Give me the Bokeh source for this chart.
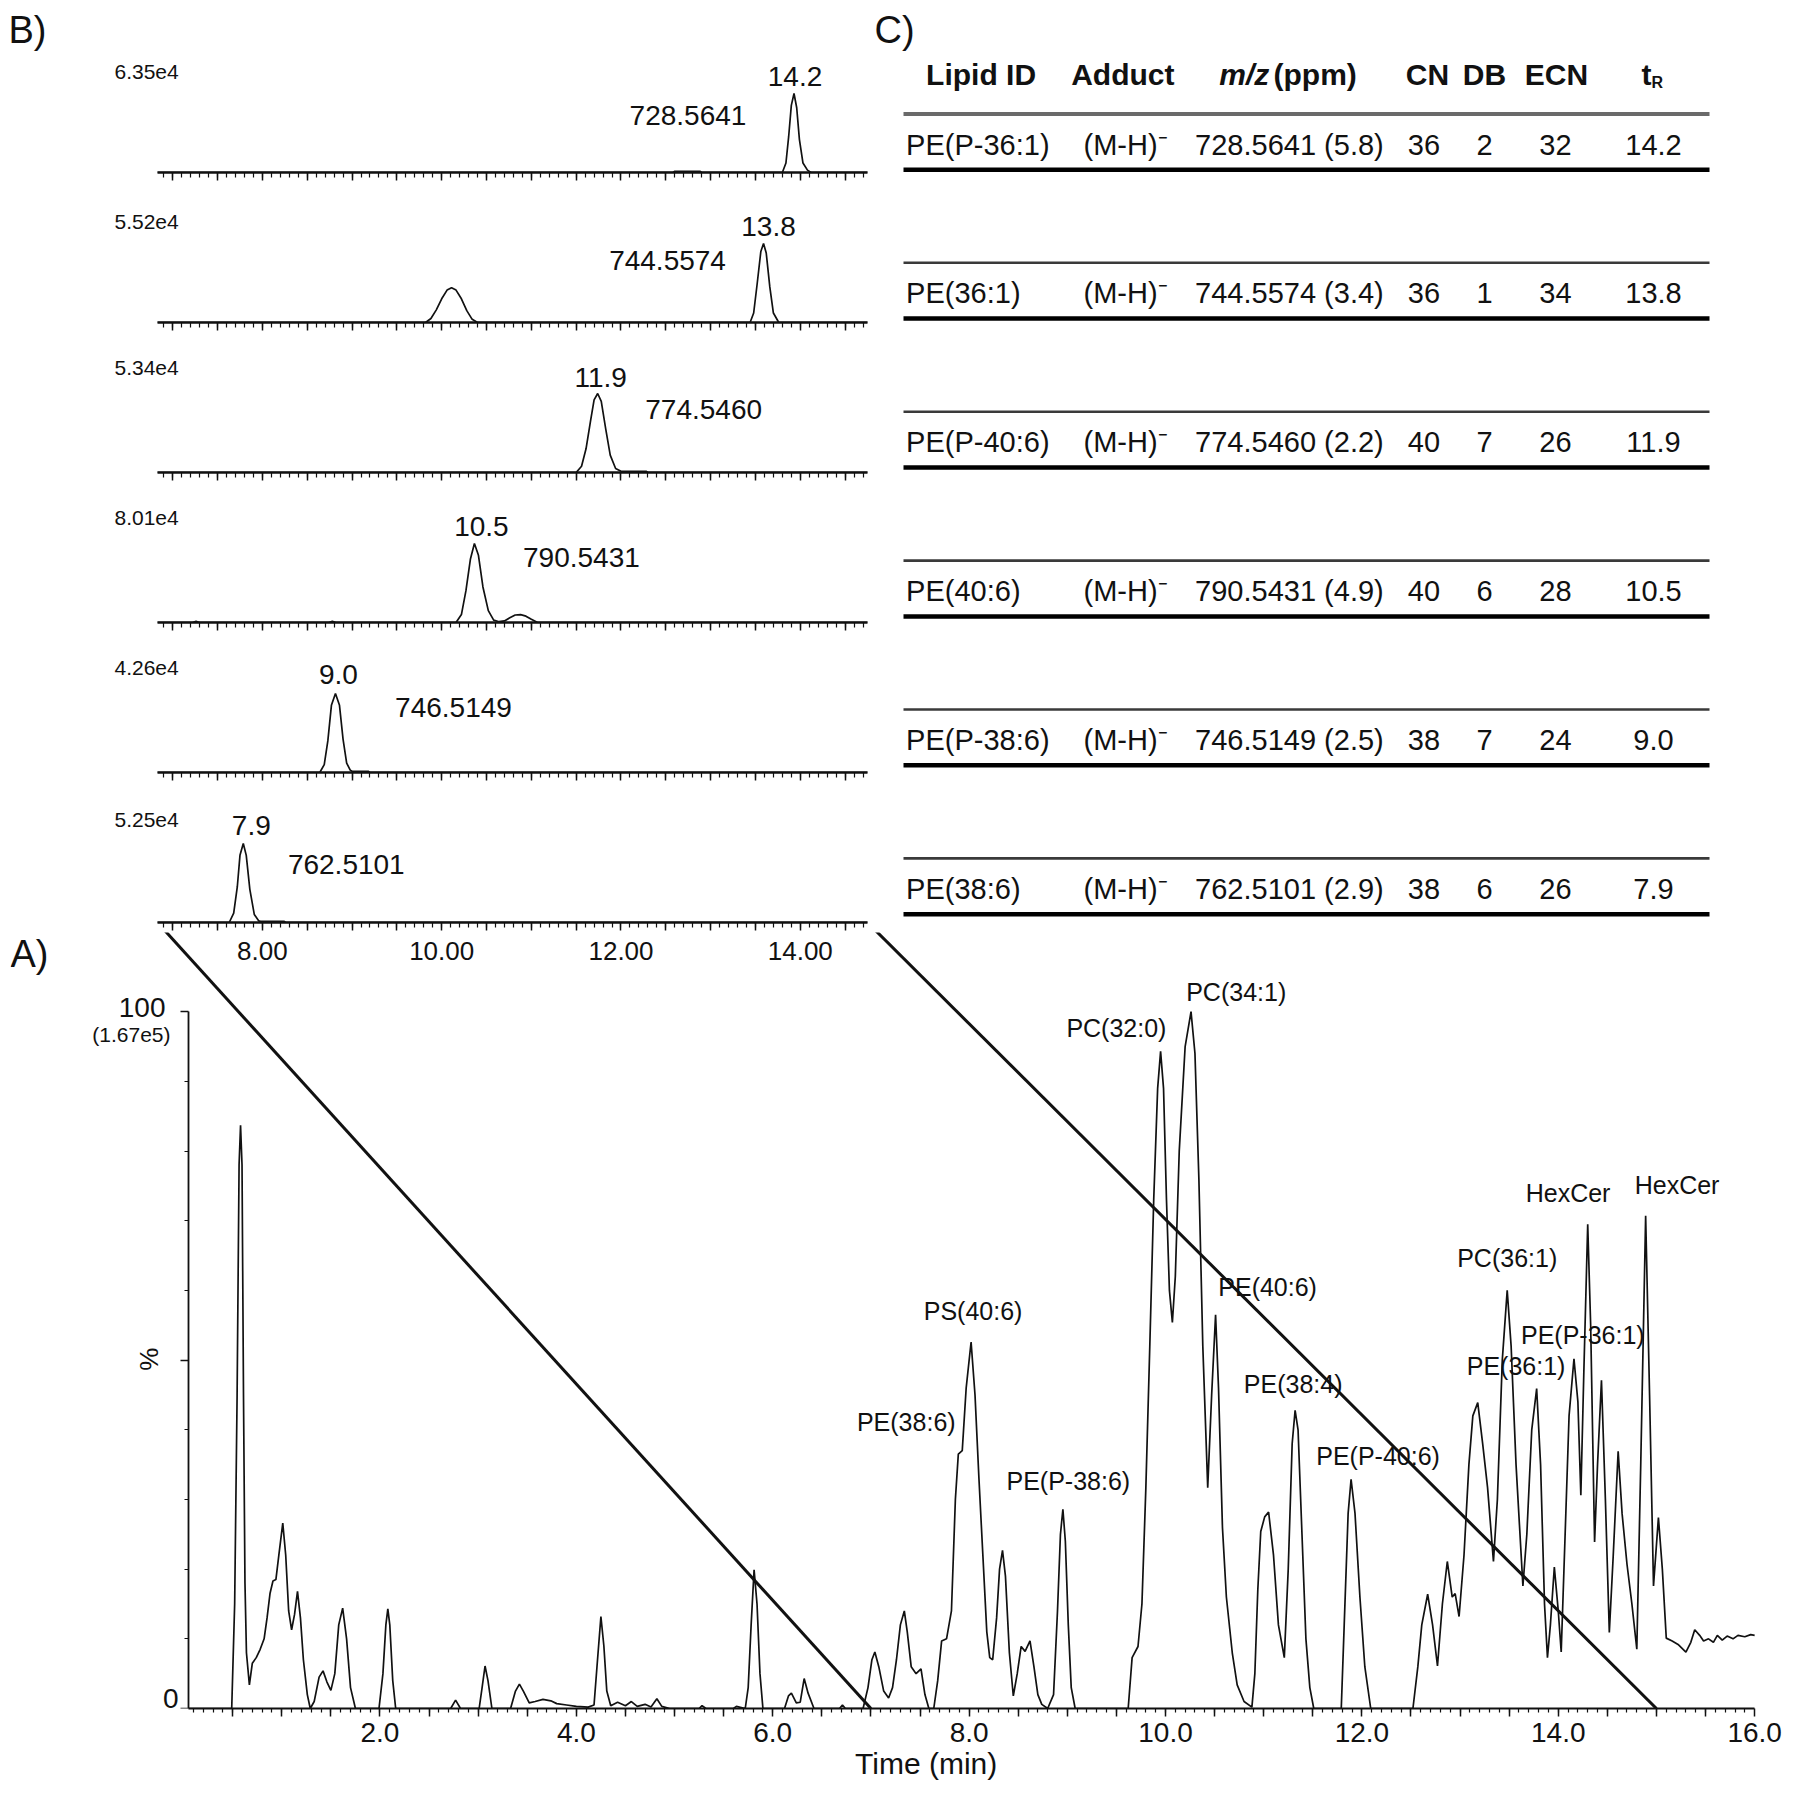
import numpy as np
from bokeh.plotting import figure
from bokeh.models import Range1d, FixedTicker, CustomJSTickFormatter, CustomLabelingPolicy
from bokeh.layouts import column, row
from bokeh.embed import file_html
from bokeh.resources import INLINE
from bokeh.core.properties import value

# ============================================================ DATA
# Panel A - total ion chromatogram: time (min) and relative intensity (%)
TIC_TIME = [0.05, 0.49, 0.52, 0.545, 0.565, 0.58, 0.595, 0.61, 0.625, 0.64, 0.67, 0.70, 0.74, 0.78, 0.82,
            0.85, 0.88, 0.91, 0.94, 0.97, 1.01, 1.04, 1.07, 1.10, 1.13, 1.16, 1.19, 1.22, 1.26, 1.29,
            1.33, 1.38, 1.42, 1.46, 1.50, 1.54, 1.58, 1.62, 1.66, 1.70, 1.75, 1.99, 2.03, 2.06, 2.08,
            2.10, 2.13, 2.16, 2.72, 2.77, 2.82, 3.01, 3.04, 3.07, 3.10, 3.14, 3.33, 3.38, 3.42, 3.46,
            3.52, 3.58, 3.66, 3.74, 3.80, 3.90, 4.00, 4.12, 4.18, 4.21, 4.25, 4.28, 4.31, 4.35, 4.42,
            4.50, 4.56, 4.62, 4.70, 4.76, 4.82, 4.87, 4.95, 5.25, 5.28, 5.32, 5.60, 5.63, 5.72, 5.75,
            5.78, 5.81, 5.84, 5.87, 5.90, 6.12, 6.16, 6.19, 6.24, 6.28, 6.32, 6.36, 6.42, 6.68, 6.71,
            6.74, 6.92, 6.97, 7.01, 7.04, 7.08, 7.13, 7.18, 7.22, 7.26, 7.30, 7.34, 7.37, 7.41, 7.46,
            7.51, 7.55, 7.59, 7.64, 7.68, 7.72, 7.77, 7.82, 7.86, 7.89, 7.93, 7.97, 8.02, 8.06, 8.10,
            8.14, 8.18, 8.21, 8.24, 8.28, 8.31, 8.34, 8.37, 8.41, 8.45, 8.49, 8.53, 8.57, 8.62, 8.66,
            8.70, 8.74, 8.80, 8.86, 8.90, 8.93, 8.955, 8.98, 9.01, 9.04, 9.08, 9.62, 9.66, 9.72, 9.76,
            9.80, 9.84, 9.88, 9.92, 9.95, 9.98, 10.01, 10.04, 10.07, 10.10, 10.14, 10.20, 10.26, 10.30,
            10.34, 10.38, 10.43, 10.47, 10.51, 10.54, 10.58, 10.62, 10.68, 10.73, 10.80, 10.88, 10.91,
            10.94, 10.97, 11.01, 11.05, 11.10, 11.15, 11.21, 11.25, 11.29, 11.32, 11.35, 11.39, 11.43,
            11.47, 11.51, 11.79, 11.82, 11.86, 11.89, 11.93, 11.98, 12.03, 12.09, 12.52, 12.57, 12.61,
            12.67, 12.72, 12.77, 12.82, 12.87, 12.92, 12.95, 12.99, 13.04, 13.09, 13.13, 13.18, 13.23,
            13.28, 13.34, 13.38, 13.43, 13.48, 13.52, 13.57, 13.64, 13.68, 13.73, 13.78, 13.82, 13.86,
            13.89, 13.92, 13.96, 14.00, 14.03, 14.07, 14.11, 14.16, 14.20, 14.23, 14.26, 14.30, 14.33,
            14.37, 14.40, 14.44, 14.48, 14.52, 14.56, 14.61, 14.65, 14.70, 14.75, 14.80, 14.84, 14.89,
            14.93, 14.97, 15.02, 15.06, 15.10, 15.16, 15.22, 15.30, 15.35, 15.39, 15.44, 15.48, 15.53,
            15.58, 15.62, 15.67, 15.72, 15.78, 15.83, 15.90, 15.96, 16.0]
TIC_PCT = [0, 0, 15, 45, 78, 83.7, 78, 45, 18, 8, 3.4, 6.5, 7.3, 8.5, 10,
           13, 16.5, 18.3, 18.5, 22, 26.6, 22, 14, 11.3, 13.5, 16.8, 13, 7, 2, 0,
           1, 4.5, 5.4, 3.8, 2.6, 5, 12, 14.4, 10, 3, 0, 0, 5, 12, 14.3,
           12, 4, 0, 0, 1.2, 0, 0, 3, 6.1, 4, 0, 0, 2.5, 3.5, 2.5,
           0.8, 1.0, 1.3, 1.1, 0.7, 0.5, 0.3, 0.2, 0.5, 6, 13.2, 9, 2.5, 0.4, 0.9,
           0.4, 1.0, 0.3, 0.6, 0.2, 1.4, 0.3, 0, 0, 0.4, 0, 0, 0.3, 0, 3,
           12, 19.9, 15, 5, 0, 0, 1.8, 2.2, 0.8, 0.9, 4.3, 2.2, 0, 0, 0.5,
           0, 0, 3, 7, 8.1, 6, 2.5, 1.5, 3, 7, 12, 14, 11, 6, 5,
           5.7, 2, 0, 0, 4, 9.7, 10, 14, 30, 36.5, 37, 46, 52.6, 45, 33,
           22, 11, 7.3, 7, 13, 20, 22.7, 19, 8, 1.8, 5, 8.9, 8.2, 9.7, 6,
           2, 0.6, 0, 2, 14, 25, 28.6, 24, 12, 3, 0, 0, 7.3, 8.9, 15,
           31.7, 52, 73, 89, 94.3, 89, 73, 60, 55.4, 62, 80, 95, 100, 94,
           76, 52, 31.7, 45, 56.5, 46, 26, 16, 8, 3.4, 1, 0.2, 5,
           17, 25.4, 27.5, 28.2, 22, 12, 7.3, 20, 38, 42.8, 40, 25, 10,
           3, 0, 0, 12, 28, 32.9, 28, 16, 6, 0, 0, 6, 12,
           16.4, 12, 6.1, 15, 21.1, 16, 16.5, 13.2, 22, 35, 42, 43.9, 38,
           31.7, 21.1, 30, 50, 60, 52, 35, 17.6, 25, 40, 45.9, 35, 15,
           7.3, 12, 20.3, 14, 8.1, 25, 42, 50.2, 44, 30.6, 48, 69.5, 55,
           23.9, 35, 47.1, 30, 10.9, 22, 36.9, 28, 20.7, 15, 8.5, 35, 70.7,
           45, 17.6, 27.4, 20, 10.1, 9.7, 9.2, 8.1, 9.5, 11.3, 10.5, 9.7, 10,
           9.5, 10.5, 9.8, 10.4, 10, 10.5, 10.3, 10.6, 10.5]

PEAK_NAMES = ["PE(38:6)", "PS(40:6)", "PE(P-38:6)", "PC(32:0)", "PC(34:1)", "PE(40:6)", "PE(38:4)",
              "PE(P-40:6)", "PC(36:1)", "PE(36:1)", "PE(P-36:1)", "HexCer", "HexCer"]
PEAK_LABEL_TIME = [7.36, 8.04, 9.01, 9.50, 10.72, 11.04, 11.30, 12.165, 13.48, 13.57, 14.25, 14.10, 15.21]
PEAK_LABEL_PCT = [41.1, 57.1, 32.7, 97.6, 102.8, 60.5, 46.5, 36.2, 64.6, 49.2, 53.6, 74.0, 75.2]

TIC_START = 0.05             # first scan, where the intensity axis sits
TIC_END = 16.0
ZOOM_WINDOW_A = [7.0, 15.0]  # where the connectors meet panel A's time axis
BASE_PEAK = "(1.67e5)"

# Panel B - extracted ion chromatograms (time on panel B's own axis, % of each trace's max)
B_AXIS_RANGE = [6.83, 14.75]
B_TICK_VALUES = [8, 10, 12, 14]
B_TICK_TEXT = ["8.00", "10.00", "12.00", "14.00"]
EIC_MZ = ["728.5641", "744.5574", "774.5460", "790.5431", "746.5149", "762.5101"]
EIC_RT = ["14.2", "13.8", "11.9", "10.5", "9.0", "7.9"]
EIC_MAX = ["6.35e4", "5.52e4", "5.34e4", "8.01e4", "4.26e4", "5.25e4"]

EIC_728_T = [6.83, 12.58, 12.60, 12.88, 12.90, 13.80, 13.84, 13.87, 13.90, 13.93, 13.96, 13.99, 14.03, 14.08, 14.12, 14.75]
EIC_728_PCT = [0, 0, 1.5, 1.5, 0, 0, 12, 45, 85, 100, 82, 42, 12, 3, 0, 0]
EIC_744_T = [6.83, 9.82, 9.88, 9.94, 10.00, 10.06, 10.11, 10.16, 10.22, 10.28, 10.34, 10.40,
             13.44, 13.48, 13.52, 13.56, 13.59, 13.62, 13.66, 13.70, 13.76, 14.75]
EIC_744_PCT = [0, 0, 5, 16, 30, 41, 44, 41, 30, 15, 4, 0, 0, 12, 50, 90, 100, 88, 45, 12, 0, 0]
EIC_774_T = [6.83, 11.50, 11.56, 11.61, 11.66, 11.70, 11.74, 11.78, 11.83, 11.88, 11.94, 12.00, 12.28, 12.30, 14.75]
EIC_774_PCT = [0, 0, 8, 30, 65, 92, 100, 90, 55, 22, 5, 1.5, 1.5, 0, 0]
EIC_790_T = [6.83, 7.22, 7.26, 7.30, 8.74, 8.78, 8.82, 10.16, 10.22, 10.27, 10.32, 10.365, 10.41, 10.46,
             10.52, 10.58, 10.64, 10.70, 10.76, 10.82, 10.88, 10.94, 11.00, 11.07, 14.75]
EIC_790_PCT = [0, 0, 1.5, 0, 0, 1.5, 0, 0, 10, 40, 80, 100, 85, 45, 15, 3, 1, 2, 6, 9.5, 10, 8, 4, 0, 0]
EIC_746_T = [6.83, 8.64, 8.69, 8.73, 8.77, 8.815, 8.86, 8.90, 8.94, 8.98, 9.00, 9.18, 9.20, 14.75]
EIC_746_PCT = [0, 0, 10, 40, 85, 100, 85, 42, 12, 3, 1.5, 1.5, 0, 0]
EIC_762_T = [6.83, 7.63, 7.68, 7.72, 7.75, 7.787, 7.82, 7.86, 7.91, 7.96, 7.98, 8.24, 8.26, 14.75]
EIC_762_PCT = [0, 0, 12, 45, 85, 100, 85, 42, 10, 2, 1.5, 1.5, 0, 0]

# Panel C - identification table
TABLE_HEADERS = ["Lipid ID", "Adduct", "m/z", "(ppm)", "CN", "DB", "ECN", "t", "R"]
LIPID_ID = ["PE(P-36:1)", "PE(36:1)", "PE(P-40:6)", "PE(40:6)", "PE(P-38:6)", "PE(38:6)"]
ADDUCT = ["(M-H)\u207b"] * 6
MZ_PPM = ["728.5641 (5.8)", "744.5574 (3.4)", "774.5460 (2.2)", "790.5431 (4.9)", "746.5149 (2.5)", "762.5101 (2.9)"]
CN = ["36", "36", "40", "40", "38", "38"]
DB = ["2", "1", "7", "6", "7", "6"]
ECN = ["32", "34", "26", "28", "24", "26"]
TR = ["14.2", "13.8", "11.9", "10.5", "9.0", "7.9"]

# ============================================================ STYLE / LAYOUT
FONT = value("Liberation Sans")
INK = "#111111"
PAGE_PAD = 8

B_MB_LEFT = PAGE_PAD
B_FRAME_W, B1_FRAME_H, B_FRAME_H, B_TICK_BAND = 864, 164, 140, 10
B_PPU = 89.65          # px per minute on panel B
B_AXIS_OFFSET = 149    # px from B frame's left edge to the axis start
B_PEAK_PX = 79         # px height of 100 %
B_X0 = B_AXIS_RANGE[0] - B_AXIS_OFFSET / B_PPU
B_X1 = B_X0 + B_FRAME_W / B_PPU

C_W = 918
C_FRAME_H = B1_FRAME_H + 5 * B_FRAME_H + 6 * B_TICK_BAND
ROW_PITCH = 148.9
ROW0_CENTER = 136

A_MB_LEFT, A_MB_RIGHT, A_MB_BOTTOM = 10, 42, 84
A_FRAME_W, A_FRAME_H = 1748, 776
A_PPU = 98.19          # px per minute on panel A
A_PPP = 6.968          # px per percent on panel A
A_T0_PX = 173.1        # frame px where t = 0
A_X0 = -A_T0_PX / A_PPU
A_X1 = A_X0 + A_FRAME_W / A_PPU
A_Y1 = A_FRAME_H / A_PPP

HIDE_ALL = "return [];"
EVERY_4TH = "const out = []; for (const i of indices) { if ((i + 1) % 4 == 0) out.push(i); } return out;"


def make_fig(**kw):
    p = figure(output_backend="svg", toolbar_location=None, title=None, **kw)
    p.outline_line_color = None
    p.grid.visible = False
    p.background_fill_color = "white"
    p.border_fill_color = "white"
    return p


def txt(p, x, y, text, size, align="center", baseline="middle", style="normal", xo=0, yo=0, angle=0, **kw):
    p.text(x=x, y=y, text=text, x_offset=xo, y_offset=yo, angle=angle,
           text_font=FONT, text_font_size=size, text_font_style=style,
           text_align=align, text_baseline=baseline, text_color=INK, **kw)


def style_ticks(ax, major_out, minor_out, line_w):
    ax.axis_line_width = line_w
    ax.axis_line_color = INK
    ax.major_tick_out, ax.major_tick_in = major_out, 0
    ax.minor_tick_out, ax.minor_tick_in = minor_out, 0
    ax.major_tick_line_width = 1.5
    ax.minor_tick_line_width = 1.2
    ax.major_tick_line_color = INK
    ax.minor_tick_line_color = INK


# ---------------------------------------------------------------- panel B
EIC_T = [EIC_728_T, EIC_744_T, EIC_774_T, EIC_790_T, EIC_746_T, EIC_762_T]
EIC_PCT = [EIC_728_PCT, EIC_744_PCT, EIC_774_PCT, EIC_790_PCT, EIC_746_PCT, EIC_762_PCT]
RT_DX = [1, 5, 3, 7, 3, 8]
RT_DY = [-17, -17, -16, -17, -19, -18.5]
MZ_DX = [-106, -96, 106, 107, 118, 103]
MZ_DY = [22, 17, 15.5, 14, 14, 20.5]
MAX_DY = [-101, -101, -105, -105, -105, -103]

b_xr = Range1d(B_X0, B_X1)
b_major = [7.0 + 0.5 * k for k in range(16)]
b_minor = [round(6.9 + 0.1 * k, 2) for k in range(79)]

b_figs = []
for i in range(6):
    frame_h = B1_FRAME_H if i == 0 else B_FRAME_H
    top = PAGE_PAD if i == 0 else 0
    p = make_fig(width=B_MB_LEFT + B_FRAME_W, height=top + frame_h + B_TICK_BAND,
                 x_range=b_xr, y_range=Range1d(0, frame_h / B_PEAK_PX * 100),
                 y_axis_location=None, min_border_left=B_MB_LEFT, min_border_right=0,
                 min_border_top=top, min_border_bottom=B_TICK_BAND)
    ax = p.xaxis[0]
    ax.bounds = (B_AXIS_RANGE[0], B_AXIS_RANGE[1])
    ax.ticker = FixedTicker(ticks=b_major, minor_ticks=b_minor)
    style_ticks(ax, 8, 5, 2.5)
    ax.major_label_text_font_size = "0px"
    ax.major_label_standoff = 0
    ax.major_label_policy = CustomLabelingPolicy(code=HIDE_ALL)

    p.line(EIC_T[i], EIC_PCT[i], line_width=1.7, color=INK)
    apex_t = EIC_T[i][int(np.argmax(EIC_PCT[i]))]
    txt(p, [apex_t], [100], [EIC_RT[i]], "28px", xo=RT_DX[i], yo=RT_DY[i])
    txt(p, [apex_t], [100], [EIC_MZ[i]], "28px", xo=MZ_DX[i], yo=MZ_DY[i])
    txt(p, [B_AXIS_RANGE[0]], [0], [EIC_MAX[i]], "21px", align="left", xo=-43, yo=MAX_DY[i])
    if i == 0:
        txt(p, [B_X0], [frame_h / B_PEAK_PX * 100], ["B)"], "38px", align="left", baseline="top", xo=0, yo=0)
    b_figs.append(p)

# ---------------------------------------------------------------- panel C
c_top = -ROW0_CENTER / ROW_PITCH
c_bot = (C_FRAME_H - ROW0_CENTER) / ROW_PITCH
pc = make_fig(width=C_W, height=PAGE_PAD + C_FRAME_H, x_range=Range1d(0, C_W), y_range=Range1d(c_bot, c_top),
              x_axis_location=None, y_axis_location=None, min_border_left=0, min_border_right=0,
              min_border_bottom=0, min_border_top=PAGE_PAD)
rows = list(range(len(LIPID_ID)))
LINE_X = (31, 837)
TOP_OFF, BOT_OFF = -30.6 / ROW_PITCH, 25.2 / ROW_PITCH
pc.segment(x0=[LINE_X[0]], x1=[LINE_X[1]], y0=[TOP_OFF], y1=[TOP_OFF], line_width=4, line_color="#6a6a6a")
pc.segment(x0=[LINE_X[0]] * 5, x1=[LINE_X[1]] * 5, y0=[r + TOP_OFF for r in rows[1:]],
           y1=[r + TOP_OFF for r in rows[1:]], line_width=2.6, line_color="#3a3a3a")
pc.segment(x0=[LINE_X[0]] * 6, x1=[LINE_X[1]] * 6, y0=[r + BOT_OFF for r in rows],
           y1=[r + BOT_OFF for r in rows], line_width=4.5, line_color="#000000")

hy = (73.5 - 144) / ROW_PITCH
txt(pc, [53.6], [hy], [TABLE_HEADERS[0]], "30px", align="left", style="bold")
txt(pc, [198.7], [hy], [TABLE_HEADERS[1]], "30px", align="left", style="bold")
txt(pc, [346.8], [hy], [TABLE_HEADERS[2]], "30px", align="left", style="bold italic")
txt(pc, [401], [hy], [TABLE_HEADERS[3]], "30px", align="left", style="bold")
txt(pc, [555, 612, 684], [hy] * 3, TABLE_HEADERS[4:7], "30px", style="bold")
txt(pc, [779], [hy], [TABLE_HEADERS[7]], "30px", align="right", style="bold")
txt(pc, [779], [(81.7 - 144) / ROW_PITCH], [TABLE_HEADERS[8]], "16px", align="left", style="bold")

txt(pc, [33.6] * 6, rows, LIPID_ID, "29px", align="left")
txt(pc, [211] * 6, rows, ADDUCT, "29px", align="left")
txt(pc, [322.6] * 6, rows, MZ_PPM, "29px", align="left")
txt(pc, [551.5] * 6, rows, CN, "29px")
txt(pc, [612] * 6, rows, DB, "29px")
txt(pc, [683] * 6, rows, ECN, "29px")
txt(pc, [781] * 6, rows, TR, "29px")
txt(pc, [2], [c_top], ["C)"], "38px", align="left", baseline="top")

# ---------------------------------------------------------------- panel A
pa = make_fig(width=A_MB_LEFT + A_FRAME_W + A_MB_RIGHT, height=A_FRAME_H + A_MB_BOTTOM,
              x_range=Range1d(A_X0, A_X1), y_range=Range1d(0, A_Y1),
              min_border_left=A_MB_LEFT, min_border_right=A_MB_RIGHT,
              min_border_top=0, min_border_bottom=A_MB_BOTTOM)
b_in_a_start = B_X0 + (A_MB_LEFT - B_MB_LEFT) / B_PPU
pa.extra_x_ranges = {"B": Range1d(b_in_a_start, b_in_a_start + A_FRAME_W / B_PPU)}

xa = pa.xaxis[0]
xa.bounds = (TIC_START, TIC_END)
xa.ticker = FixedTicker(ticks=[0.5 * k for k in range(1, 33)],
                        minor_ticks=[round(0.1 * k, 1) for k in range(1, 160)])
xa.formatter = CustomJSTickFormatter(code="return tick.toFixed(1);")
xa.major_label_policy = CustomLabelingPolicy(code=EVERY_4TH)
style_ticks(xa, 8, 4, 2.2)
xa.major_label_text_font = "Liberation Sans"
xa.major_label_text_font_size = "28px"
xa.major_label_text_color = INK
xa.major_label_standoff = 6
xa.axis_label = "\u00a0" * 10 + "Time (min)"
xa.axis_label_text_font = "Liberation Sans"
xa.axis_label_text_font_size = "30px"
xa.axis_label_text_font_style = "normal"
xa.axis_label_text_color = INK
xa.axis_label_standoff = 2

ya = pa.yaxis[0]
ya.fixed_location = TIC_START
ya.bounds = (0, 100)
ya.ticker = FixedTicker(ticks=[0, 50, 100], minor_ticks=[10, 20, 30, 40, 60, 70, 80, 90])
style_ticks(ya, 8, 4, 1.8)
ya.major_label_text_font_size = "0px"
ya.major_label_standoff = 0
ya.major_label_policy = CustomLabelingPolicy(code=HIDE_ALL)

pa.line(TIC_TIME, TIC_PCT, line_width=1.7, color=INK)


def b_time_to_a_time(tb):
    px_a = (tb - B_X0) * B_PPU - (A_MB_LEFT - B_MB_LEFT)
    return A_X0 + px_a / A_PPU


y_connect = A_Y1 + B_TICK_BAND / A_PPP
pa.line([b_time_to_a_time(B_AXIS_RANGE[0]), ZOOM_WINDOW_A[0]], [y_connect, 0], line_width=3, color=INK)
pa.line([b_time_to_a_time(B_AXIS_RANGE[1]), ZOOM_WINDOW_A[1]], [y_connect, 0], line_width=3, color=INK)

txt(pa, B_TICK_VALUES, [A_Y1] * 4, B_TICK_TEXT, "26px", yo=18, x_range_name="B")
txt(pa, PEAK_LABEL_TIME, PEAK_LABEL_PCT, PEAK_NAMES, "25px")
txt(pa, [TIC_START], [100], ["100"], "28px", align="right", xo=-23, yo=-4.5)
txt(pa, [TIC_START], [100], [BASE_PEAK], "21px", align="right", xo=-18, yo=23)
txt(pa, [TIC_START], [0], ["0"], "28px", align="right", xo=-10, yo=-10)
txt(pa, [TIC_START], [50], ["%"], "26px", xo=-40, yo=-1, angle=np.pi / 2)
txt(pa, [A_X0], [A_Y1], ["A)"], "38px", align="left", baseline="top", xo=0)

layout = column(row(column(*b_figs), pc), pa)
open("out.html", "w").write(file_html(layout, INLINE))
